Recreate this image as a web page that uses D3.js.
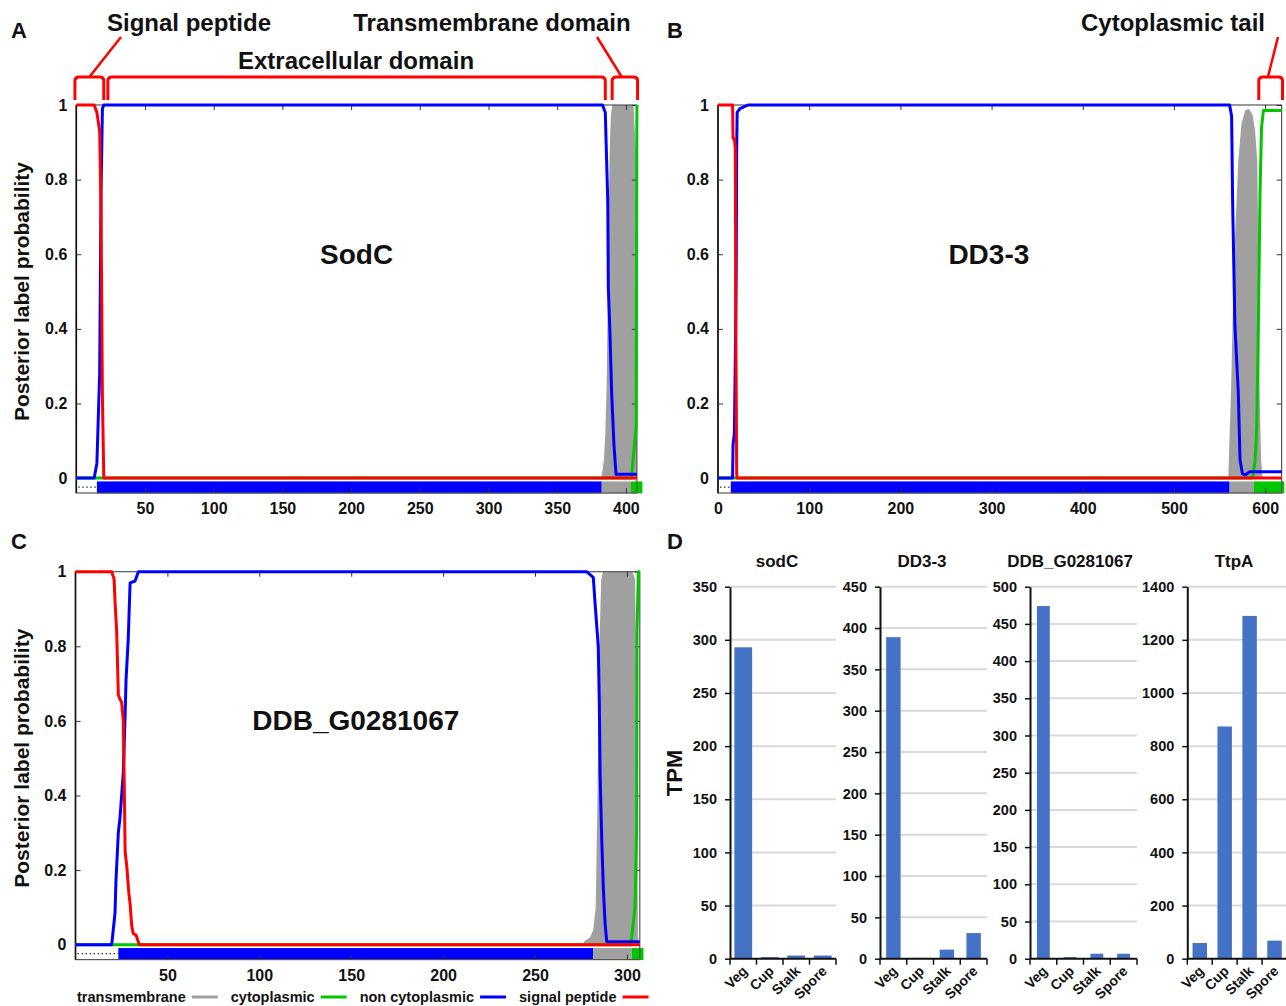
<!DOCTYPE html>
<html>
<head>
<meta charset="utf-8">
<script src="https://cdn.jsdelivr.net/npm/d3@7"></script>
<style>
  body { margin: 0; background: #fff; }
  svg { display: block; }
  text { font-family: "Liberation Sans", Arial, Helvetica, sans-serif; font-weight: bold; fill: #111; }
</style>
</head>
<body>
<svg id="fig" width="1286" height="1006"></svg>
<script>
// ---------- Posterior label probabilities (residue position, probability) ----------
// SodC
const sodcLength = 408;
const sodcSignalPeptide = [[0,1],[13,1],[15,0.98],[17,0.93],[18,0.72],[19,0.22],[20,0],[408,0]];
const sodcNonCytoplasmic = [[0,0],[13,0],[15,0.04],[17,0.28],[18,0.76],[19,0.99],[20,1],[383,1],[385,0.98],[386.8,0.74],[387.2,0.51],[388.4,0.39],[389.6,0.23],[391.3,0.09],[392.8,0.01],[408,0.01]];
const sodcCytoplasmic = [[0,0],[404,0],[407.5,0.14],[408,1]];
const sodcTransmembrane = [[382,0],[383,0.02],[384,0.05],[385,0.12],[386,0.25],[387,0.55],[388,0.85],[389,0.97],[390,1],[405.5,1],[407.5,0.86],[408,0]];
const sodcTopology = [["signal",0,15],["non",15,382.4],["tm",382.4,403.7],["cyto",403.7,412]];
const sodcTicks = [50,100,150,200,250,300,350,400];

// DD3-3
const dd33Length = 618;
const dd33SignalPeptide = [[0,1],[16,1],[16.5,0.91],[18,0.91],[19,0.88],[19.5,0.43],[20.5,0.01],[21,0],[618,0]];
const dd33NonCytoplasmic = [[0,0],[16,0],[16.5,0.09],[18,0.12],[19.5,0.43],[20,0.57],[20.5,0.88],[21,0.98],[24,0.99],[33,1],[561,1],[563.2,0.97],[564.3,0.74],[566.8,0.41],[570.5,0.23],[572.4,0.05],[575,0.012],[578,0.008],[583,0.017],[618,0.017]];
const dd33Cytoplasmic = [[0,0],[585,0],[587,0.01],[589,0.05],[590.7,0.13],[592.5,0.4],[594.3,0.76],[596,0.94],[598,0.985],[618,0.985]];
const dd33Transmembrane = [[559.5,0],[562.5,0.23],[565.8,0.58],[570.5,0.85],[574,0.95],[578,0.985],[582,0.99],[586,0.975],[589,0.93],[591.3,0.85],[592.8,0.58],[593.9,0.23],[595.5,0.05],[597,0]];
const dd33Topology = [["signal",0,14],["non",14,561],["tm",561,587.5],["cyto",587.5,621]];
const dd33Ticks = [0,100,200,300,400,500,600];

// DDB_G0281067
const ddbLength = 307;
const ddbSignalPeptide = [[0,1],[19.7,1],[21,0.98],[21.5,0.92],[22.4,0.84],[23.3,0.67],[24,0.66],[25.1,0.65],[26,0.6],[26.5,0.44],[27,0.25],[27.9,0.21],[29,0.14],[29.7,0.11],[30.6,0.05],[31.4,0.03],[33,0.025],[34.7,0],[307,0]];
const ddbNonCytoplasmic = [[0,0],[19.7,0],[21.5,0.085],[22,0.17],[23.3,0.3],[24.2,0.34],[26,0.46],[26.9,0.6],[27.5,0.71],[28.7,0.82],[29.7,0.97],[32.4,0.975],[34.2,1],[278,1],[281.7,0.985],[282.6,0.92],[284.4,0.8],[285,0.64],[285.4,0.46],[286.3,0.28],[287.2,0.147],[288.1,0.058],[289,0.008],[307,0.008]];
const ddbCytoplasmic = [[0,0],[302,0],[302.6,0.02],[304.4,0.1],[305.3,0.31],[305.5,0.84],[306.2,1],[307,1]];
const ddbTransmembrane = [[276,0],[277,0.01],[280,0.02],[281.7,0.04],[283,0.1],[284,0.4],[285,0.8],[286,0.98],[287,1],[303,1],[304.4,0.98],[305.3,0.69],[306,0]];
const ddbTopology = [["signal",0,23.3],["non",23.3,281.7],["tm",281.7,302.6],["cyto",302.6,309]];
const ddbTicks = [50,100,150,200,250,300];

const probTicks = [0,0.2,0.4,0.6,0.8,1];

// Domain brackets above the profiles (residue ranges)
const sodcDomains = [
  {start:-1, end:20, label:"Signal peptide", labelPos:[189,31], tail:9.5},
  {start:23, end:385, label:"Extracellular domain", labelPos:[356,69], tail:null},
  {start:390, end:408.5, label:"Transmembrane domain", labelPos:[492,31], tail:397}
];
const dd33Domains = [
  {start:593, end:619, label:"Cytoplasmic tail", labelPos:[1173,31], tail:603}
];

// ---------- Transcript abundance (TPM) ----------
const stages = ["Veg","Cup","Stalk","Spore"];
const sodcTPM = [293, 1.5, 3, 3];
const dd33TPM = [389, 1, 11, 31];
const ddbTPM = [474, 2.2, 6.7, 6.7];
const ttpaTPM = [59, 874, 1290, 68];
const sodcTPMTicks = [0,50,100,150,200,250,300,350];
const dd33TPMTicks = [0,50,100,150,200,250,300,350,400,450];
const ddbTPMTicks = [0,50,100,150,200,250,300,350,400,450,500];
const ttpaTPMTicks = [0,200,400,600,800,1000,1200,1400];

// ---------- drawing ----------
const svg = d3.select("#fig");
const COL = { tm: "#a0a0a0", cyto: "#00c800", non: "#0000ff", sp: "#ff0000", bar: "#4472c4" };

function profilePanel(o) {
  const g = svg.append("g");
  const x = d3.scaleLinear().domain([0, o.length]).range([o.left, o.right]);
  const y = d3.scaleLinear().domain([-0.04, 1]).range([o.bottom, o.top]);

  // transmembrane probability as a filled area
  g.append("path").datum(o.tm)
    .attr("d", d3.area().x(d => x(d[0])).y0(y(0)).y1(d => y(d[1])))
    .attr("fill", COL.tm);

  // predicted topology strip below zero
  o.topology.forEach(([kind, a, b]) => {
    if (kind === "signal") {
      g.append("line")
        .attr("x1", x(a) + 2).attr("x2", x(b))
        .attr("y1", y(-0.024)).attr("y2", y(-0.024))
        .attr("stroke", "#333").attr("stroke-width", 1.3)
        .attr("stroke-dasharray", "1.5,2.5");
    } else {
      g.append("rect")
        .attr("x", x(a)).attr("width", x(b) - x(a))
        .attr("y", y(-0.009)).attr("height", y(-0.041) - y(-0.009))
        .attr("fill", COL[kind]);
    }
  });

  // frame
  g.append("rect")
    .attr("x", o.left).attr("y", o.top)
    .attr("width", o.right - o.left).attr("height", o.bottom - o.top)
    .attr("fill", "none").attr("stroke", "#555").attr("stroke-width", 1.2);
  g.append("line").attr("x1", o.left).attr("x2", o.left)
    .attr("y1", o.top).attr("y2", o.bottom)
    .attr("stroke", "#111").attr("stroke-width", 1.6);

  // axes with inward ticks
  const styleAxis = sel => sel
    .attr("font-size", 16)
    .attr("font-family", "'Liberation Sans', Arial, sans-serif")
    .attr("font-weight", "bold")
    .attr("color", "#333")
    .call(s => s.select(".domain").remove())
    .call(s => s.selectAll("text").attr("fill", "#111"));

  g.append("g").attr("transform", `translate(0,${o.bottom})`)
    .call(d3.axisBottom(x).tickValues(o.xTicks).tickSize(-5).tickPadding(10))
    .call(styleAxis);
  g.append("g").attr("transform", `translate(0,${o.top})`)
    .call(d3.axisTop(x).tickValues(o.xTicks).tickSize(-5).tickFormat(""))
    .call(styleAxis);
  g.append("g").attr("transform", `translate(${o.left},0)`)
    .call(d3.axisLeft(y).tickValues(probTicks).tickSize(-5).tickPadding(9).tickFormat(d => String(d)))
    .call(styleAxis);
  g.append("g").attr("transform", `translate(${o.right},0)`)
    .call(d3.axisRight(y).tickValues(probTicks).tickSize(-5).tickFormat(""))
    .call(styleAxis);

  // probability curves
  const line = d3.line().x(d => x(d[0])).y(d => y(d[1]));
  [[o.cyto, COL.cyto], [o.non, COL.non], [o.sp, COL.sp]].forEach(([data, c]) => {
    g.append("path").datum(data)
      .attr("d", line)
      .attr("fill", "none").attr("stroke", c)
      .attr("stroke-width", 3).attr("stroke-linejoin", "round");
  });

  // protein name
  g.append("text")
    .attr("x", x(o.nameAt)).attr("y", y(0.6))
    .attr("text-anchor", "middle").attr("dominant-baseline", "central")
    .attr("font-size", 28).text(o.name);

  // y title
  if (o.yTitle) {
    g.append("text")
      .attr("transform", `translate(29,${(y(0) + y(1)) / 2}) rotate(-90)`)
      .attr("text-anchor", "middle").attr("font-size", 21)
      .text("Posterior label probability");
  }

  // panel letter
  g.append("text").attr("x", o.letterPos[0]).attr("y", o.letterPos[1])
    .attr("font-size", 22).text(o.letter);

  // domain brackets
  (o.domains || []).forEach(dm => {
    const xa = x(dm.start), xb = x(dm.end);
    const yTop = 77, yEnd = 100, r = 4;
    const p = d3.path();
    p.moveTo(xa, yEnd);
    p.lineTo(xa, yTop + r);
    p.quadraticCurveTo(xa, yTop, xa + r, yTop);
    p.lineTo(xb - r, yTop);
    p.quadraticCurveTo(xb, yTop, xb, yTop + r);
    p.lineTo(xb, yEnd);
    g.append("path").attr("d", p.toString())
      .attr("fill", "none").attr("stroke", COL.sp).attr("stroke-width", 3)
      .attr("stroke-linejoin", "round");
    if (dm.tail !== null) {
      const xt = x(dm.tail);
      const tx = dm.labelPos[0] + (xt < dm.labelPos[0] ? -68 : 105);
      g.append("line")
        .attr("x1", xt).attr("y1", yTop)
        .attr("x2", tx).attr("y2", 37)
        .attr("stroke", COL.sp).attr("stroke-width", 2.5);
    }
    g.append("text").attr("x", dm.labelPos[0]).attr("y", dm.labelPos[1])
      .attr("text-anchor", "middle").attr("font-size", 24).text(dm.label);
  });
}

profilePanel({
  left: 76.3, right: 636.9, top: 105, bottom: 493,
  length: sodcLength, xTicks: sodcTicks,
  sp: sodcSignalPeptide, non: sodcNonCytoplasmic, cyto: sodcCytoplasmic, tm: sodcTransmembrane,
  topology: sodcTopology, name: "SodC", nameAt: 204, yTitle: true,
  letter: "A", letterPos: [11, 38], domains: sodcDomains
});

profilePanel({
  left: 718, right: 1281.6, top: 105, bottom: 493,
  length: dd33Length, xTicks: dd33Ticks,
  sp: dd33SignalPeptide, non: dd33NonCytoplasmic, cyto: dd33Cytoplasmic, tm: dd33Transmembrane,
  topology: dd33Topology, name: "DD3-3", nameAt: 297, yTitle: false,
  letter: "B", letterPos: [667, 38], domains: dd33Domains
});

profilePanel({
  left: 75.5, right: 639.8, top: 571.7, bottom: 959.6,
  length: ddbLength, xTicks: ddbTicks,
  sp: ddbSignalPeptide, non: ddbNonCytoplasmic, cyto: ddbCytoplasmic, tm: ddbTransmembrane,
  topology: ddbTopology, name: "DDB_G0281067", nameAt: 152.5, yTitle: true,
  letter: "C", letterPos: [11, 549], domains: []
});

// legend under panel C
(function legend() {
  const items = [["transmembrane", COL.tm], ["cytoplasmic", COL.cyto], ["non cytoplasmic", COL.non], ["signal peptide", COL.sp]];
  const lg = svg.append("g").attr("transform", "translate(0,1002)");
  let cx = 77;
  items.forEach(([label, c]) => {
    const t = lg.append("text").attr("x", cx).attr("y", 0).attr("font-size", 14.5).text(label);
    const w = t.node().getComputedTextLength();
    lg.append("line").attr("x1", cx + w + 6).attr("x2", cx + w + 32)
      .attr("y1", -5).attr("y2", -5).attr("stroke", c).attr("stroke-width", 3);
    cx += w + 32 + 13;
  });
})();

// ---------- panel D: TPM bar charts ----------
function barChart(o) {
  const g = svg.append("g");
  const x = d3.scaleBand().domain(stages).range([o.x0, o.x1])
    .paddingInner(o.pad).paddingOuter(o.pad / 2);
  const y = d3.scaleLinear().domain([0, o.max]).range([958.7, 586.7]);

  // gridlines
  g.selectAll("line.grid").data(o.ticks.filter(t => t > 0)).join("line")
    .attr("class", "grid")
    .attr("x1", o.x0).attr("x2", o.x1)
    .attr("y1", d => y(d)).attr("y2", d => y(d))
    .attr("stroke", "#d9d9d9").attr("stroke-width", 2);

  // bars
  g.selectAll("rect").data(o.values).join("rect")
    .attr("x", (d, i) => x(stages[i])).attr("width", x.bandwidth())
    .attr("y", d => y(d)).attr("height", d => y(0) - y(d))
    .attr("fill", COL.bar);

  // y axis
  g.append("g").attr("transform", `translate(${o.x0},0)`)
    .call(d3.axisLeft(y).tickValues(o.ticks).tickSize(5).tickPadding(8).tickSizeOuter(0)
      .tickFormat(d3.format("d")))
    .attr("font-size", 14.5).attr("font-weight", "bold")
    .attr("font-family", "'Liberation Sans', Arial, sans-serif")
    .attr("color", "#111")
    .call(s => s.select(".domain").attr("stroke-width", 2))
    .call(s => s.selectAll(".tick line").attr("stroke-width", 1.5));

  // x axis with ticks at category boundaries
  const step = x.step();
  g.append("line").attr("x1", o.x0).attr("x2", o.x1)
    .attr("y1", y(0)).attr("y2", y(0)).attr("stroke", "#111").attr("stroke-width", 2);
  g.selectAll("line.xt").data(d3.range(stages.length + 1)).join("line")
    .attr("class", "xt")
    .attr("x1", i => o.x0 + i * step).attr("x2", i => o.x0 + i * step)
    .attr("y1", y(0)).attr("y2", y(0) + 6)
    .attr("stroke", "#111").attr("stroke-width", 1.5);

  // rotated category labels
  g.selectAll("text.cat").data(stages).join("text")
    .attr("class", "cat")
    .attr("transform", d => `translate(${x(d) + x.bandwidth() / 2 + 5},972) rotate(-45)`)
    .attr("text-anchor", "end").attr("font-size", 14).text(d => d);

  // title
  g.append("text").attr("x", o.titleX).attr("y", 567)
    .attr("text-anchor", "middle").attr("font-size", 17).text(o.title);
}

barChart({ x0: 730, x1: 836, pad: 0.33, max: 350, ticks: sodcTPMTicks, values: sodcTPM, title: "sodC", titleX: 777 });
barChart({ x0: 880, x1: 987, pad: 0.46, max: 450, ticks: dd33TPMTicks, values: dd33TPM, title: "DD3-3", titleX: 922 });
barChart({ x0: 1030, x1: 1137, pad: 0.52, max: 500, ticks: ddbTPMTicks, values: ddbTPM, title: "DDB_G0281067", titleX: 1070 });
barChart({ x0: 1187.3, x1: 1287, pad: 0.42, max: 1400, ticks: ttpaTPMTicks, values: ttpaTPM, title: "TtpA", titleX: 1234 });

svg.append("text")
  .attr("transform", "translate(682,773) rotate(-90)")
  .attr("text-anchor", "middle").attr("font-size", 22).text("TPM");
svg.append("text").attr("x", 667).attr("y", 549).attr("font-size", 22).text("D");
</script>
</body>
</html>
